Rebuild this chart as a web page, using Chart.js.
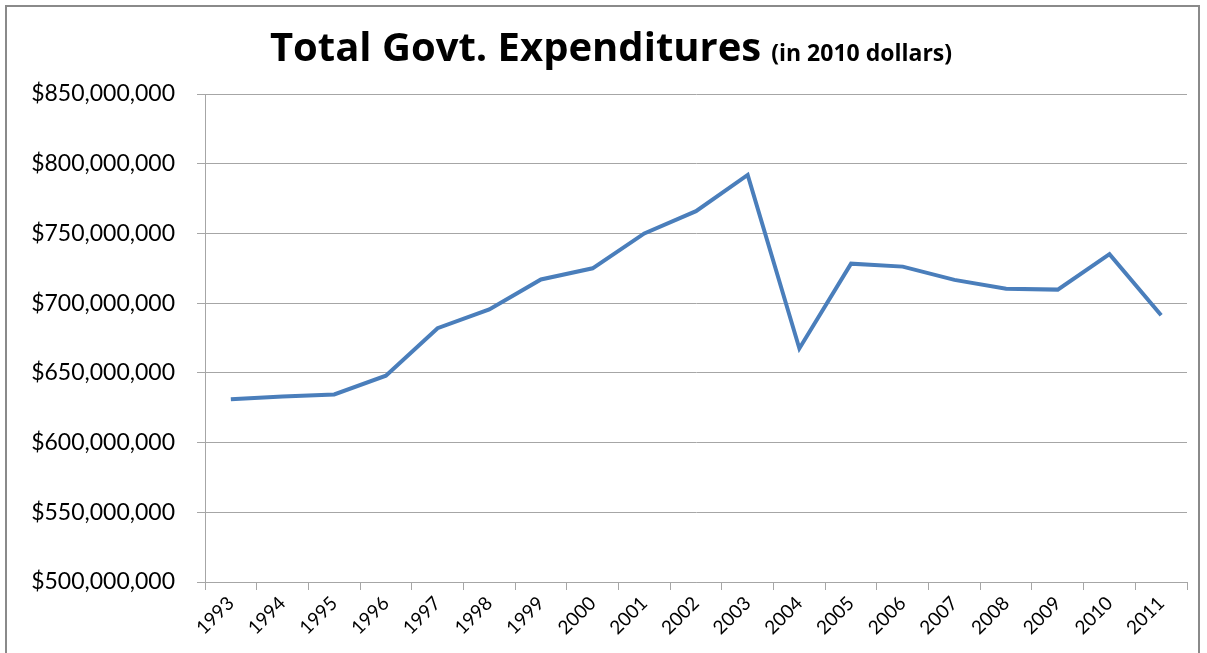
<!DOCTYPE html>
<html>
<head>
<meta charset="utf-8">
<script src="https://cdn.jsdelivr.net/npm/chart.js@4/dist/chart.umd.min.js"></script>
<style>
  html, body { margin: 0; padding: 0; background: #fff; overflow: hidden; }
  #wrap { position: relative; width: 1207px; height: 653px; }
  #frame { position: absolute; left: 5px; top: 5px; width: 1195px; height: 700px; border: 2px solid #8a8a8a; box-sizing: border-box; pointer-events: none; }
  canvas { position: absolute; left: 0; top: 0; }
</style>
</head>
<body>
<div id="wrap">
  <canvas id="c" width="1207" height="653"></canvas>
  <div id="frame"></div>
</div>
<script>
const years = ["1993","1994","1995","1996","1997","1998","1999","2000","2001","2002","2003","2004","2005","2006","2007","2008","2009","2010","2011"];
const expenditures = [631000000, 633000000, 634500000, 648000000, 682000000, 695500000, 717000000, 725000000, 750000000, 766000000, 792000000, 667500000, 728300000, 726200000, 716700000, 710400000, 709700000, 735100000, 691300000];
const titleMain = "Total Govt. Expenditures";
const titleSub = "(in 2010 dollars)";
const yMin = 500000000, yMax = 850000000, yStep = 50000000;

const titlePlugin = {
  id: 'twoPartTitle',
  afterDraw(chart) {
    const ctx = chart.ctx;
    ctx.save();
    ctx.fillStyle = '#000';
    ctx.textBaseline = 'alphabetic';
    ctx.textAlign = 'left';
    const mainFont = 'bold 40px "Open Sans", sans-serif';
    const subFont = 'bold 23px "Open Sans", sans-serif';
    ctx.font = mainFont;
    const w1 = ctx.measureText(titleMain).width;
    ctx.font = subFont;
    const w2 = ctx.measureText(titleSub).width;
    const gap = 10;
    const total = w1 + gap + w2;
    const x0 = 611 - total / 2;
    ctx.font = mainFont;
    ctx.fillText(titleMain, x0, 61);
    ctx.font = subFont;
    ctx.fillText(titleSub, x0 + w1 + gap, 61);
    ctx.restore();
  }
};

new Chart(document.getElementById('c'), {
  type: 'line',
  data: {
    labels: years,
    datasets: [{
      data: expenditures,
      borderColor: '#4a7ebb',
      borderWidth: 4,
      pointRadius: 0,
      tension: 0,
      fill: false
    }]
  },
  options: {
    responsive: false,
    animation: false,
    layout: { padding: { top: 94, right: 20, left: 0, bottom: 0 } },
    plugins: { legend: { display: false }, title: { display: false }, tooltip: { enabled: false } },
    scales: {
      x: {
        offset: true,
        grid: { display: true, drawOnChartArea: false, drawTicks: true, tickLength: 8, offset: true, color: '#a6a6a6', lineWidth: 1 },
        border: { display: true, color: '#a6a6a6', width: 1 },
        ticks: { color: '#000', font: { family: 'Lato, "Open Sans", sans-serif', size: 19 }, minRotation: 45, maxRotation: 45, padding: 2, autoSkip: false },
        afterFit(scale) { scale.height = 71; }
      },
      y: {
        min: yMin, max: yMax,
        grid: { color: '#a6a6a6', lineWidth: 1, drawTicks: true, tickLength: 8 },
        border: { display: true, color: '#a6a6a6', width: 1 },
        ticks: {
          stepSize: yStep,
          color: '#000',
          padding: 22,
          font: { family: 'Lato, "Open Sans", sans-serif', size: 23 },
          callback: v => '$' + Number(v).toLocaleString('en-US')
        },
        afterFit(scale) { scale.width = 205; }
      }
    }
  },
  plugins: [titlePlugin]
});
</script>
</body>
</html>
